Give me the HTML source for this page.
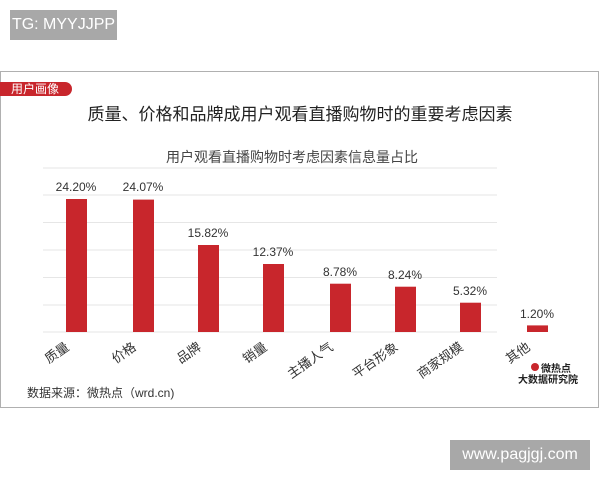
<!DOCTYPE html>
<html><head><meta charset="utf-8"><style>
body{margin:0;width:600px;height:480px;background:#fff;position:relative;overflow:hidden;font-family:"Liberation Sans","Noto Sans CJK SC",sans-serif;}
.wm{position:absolute;background:#a8a8a8;color:#fff;font-size:16px;}
.card{position:absolute;left:0;top:71px;width:597px;height:335px;border:1.5px solid #b0b0b0;}
svg text{font-family:"Liberation Sans","Noto Sans CJK SC",sans-serif;}
</style></head><body>
<div class="wm" style="left:10px;top:10px;width:107px;height:30px;line-height:30px;text-align:center;">TG: MYYJJPP</div>
<div class="card"></div>
<div class="wm" style="left:450px;top:440px;width:140px;height:30px;line-height:30px;text-align:center;">www.pagjgj.com</div>
<svg width="600" height="480" style="position:absolute;left:0;top:0">
<path d="M0,82 H65 A7,7 0 0 1 65,96 H0 Z" fill="#c8262c"/>
<text x="11" y="93" font-size="12" fill="#fff">用户画像</text>
<text x="300" y="120" font-size="17" fill="#222" text-anchor="middle">质量、价格和品牌成用户观看直播购物时的重要考虑因素</text>
<text x="292" y="162" font-size="14" fill="#444" text-anchor="middle">用户观看直播购物时考虑因素信息量占比</text>
<g stroke="#e6e6e6" stroke-width="1">
<line x1="43" x2="497" y1="168" y2="168"/><line x1="43" x2="497" y1="195" y2="195"/><line x1="43" x2="497" y1="222.5" y2="222.5"/><line x1="43" x2="497" y1="250" y2="250"/><line x1="43" x2="497" y1="277.5" y2="277.5"/><line x1="43" x2="497" y1="305" y2="305"/><line x1="43" x2="497" y1="332" y2="332"/>
</g>
<g fill="#c8262c">
<rect x="66" y="199" width="21" height="133"/>
<rect x="133" y="199.6" width="21" height="132.4"/>
<rect x="198" y="245" width="21" height="87"/>
<rect x="263" y="264" width="21" height="68"/>
<rect x="330" y="283.7" width="21" height="48.3"/>
<rect x="395" y="286.7" width="21" height="45.3"/>
<rect x="460" y="302.7" width="21" height="29.3"/>
<rect x="527" y="325.4" width="21" height="6.6"/>
</g>
<g font-size="12" fill="#333" text-anchor="middle">
<text x="76" y="191">24.20%</text><text x="143" y="191">24.07%</text><text x="208" y="237">15.82%</text><text x="273" y="256">12.37%</text><text x="340" y="276">8.78%</text><text x="405" y="279">8.24%</text><text x="470" y="295">5.32%</text><text x="537" y="318">1.20%</text>
</g>
<g font-size="13" fill="#333" text-anchor="end">
<text transform="translate(70,349) rotate(-35)">质量</text>
<text transform="translate(137,349) rotate(-35)">价格</text>
<text transform="translate(202,349) rotate(-35)">品牌</text>
<text transform="translate(268,349) rotate(-35)">销量</text>
<text transform="translate(334,349) rotate(-35)">主播人气</text>
<text transform="translate(399,349) rotate(-35)">平台形象</text>
<text transform="translate(464,349) rotate(-35)">商家规模</text>
<text transform="translate(531,349) rotate(-35)">其他</text>
</g>
<circle cx="535" cy="367" r="4" fill="#c8262c"/>
<text x="541" y="372" font-size="10" font-weight="bold" fill="#222">微热点</text>
<text x="518" y="383" font-size="10" font-weight="bold" fill="#222">大数据研究院</text>
<text x="27" y="397" font-size="12" fill="#333">数据来源：微热点（wrd.cn)</text>
</svg>
</body></html>
